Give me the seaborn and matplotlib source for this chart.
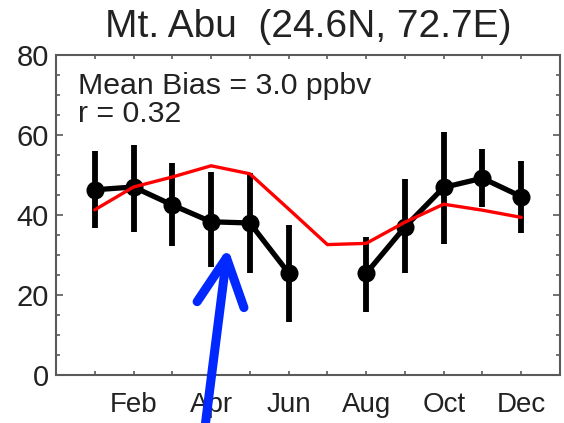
import numpy as np
import pandas as pd
import matplotlib
matplotlib.use('Agg')
import matplotlib.pyplot as plt
import seaborn as sns
from matplotlib.ticker import MultipleLocator

# Monthly ozone at Mt. Abu: observations (with spread) and model
months = [1, 2, 3, 4, 5, 6, 7, 8, 9, 10, 11, 12]
obs_mean = [46.3, 47.0, 42.5, 38.3, 38.0, 25.5, np.nan, 25.4, 37.0, 46.9, 49.2, 44.6]
obs_high = [56.0, 57.5, 53.0, 50.8, 50.6, 37.5, np.nan, 34.6, 48.9, 60.8, 56.4, 53.5]
obs_low = [36.7, 35.8, 32.3, 27.0, 25.6, 13.3, np.nan, 15.8, 25.4, 32.8, 42.0, 35.4]
model = [41.3, 47.0, 49.5, 52.3, 50.3, 41.5, 32.6, 32.9, 38.2, 42.7, 41.2, 39.4]
tick_months = [2, 4, 6, 8, 10, 12]
tick_names = ['Feb', 'Apr', 'Jun', 'Aug', 'Oct', 'Dec']
title = 'Mt. Abu  (24.6N, 72.7E)'
stats = ['Mean Bias = 3.0 ppbv', 'r = 0.32']

sns.set_style('ticks')
plt.rcParams['font.family'] = ['Liberation Sans', 'DejaVu Sans']

obs_df = pd.DataFrame({'month': months, 'obs': obs_mean, 'lo': obs_low, 'hi': obs_high})
# split observations where a month is missing so the line breaks there
obs_df['segment'] = obs_df['obs'].isna().cumsum()
obs_df = obs_df.dropna()
model_df = pd.DataFrame({'month': months, 'model': model})

fig = plt.figure(figsize=(5.64, 4.23), dpi=100)
ax = fig.add_axes([0.0993, 0.1135, 0.8936, 0.7565])

ax.vlines(obs_df['month'], obs_df['lo'], obs_df['hi'], color='black', lw=4.2, zorder=2)
sns.lineplot(data=obs_df, x='month', y='obs', units='segment', estimator=None,
             color='black', lw=3.8, marker='o', markersize=13, markeredgewidth=0,
             ax=ax, zorder=3)
sns.lineplot(data=model_df, x='month', y='model', color='#ff0000', lw=2.4, ax=ax, zorder=4)

ax.set_xlim(0, 13)
ax.set_ylim(0, 80)
ax.set_xlabel('')
ax.set_ylabel('')
ax.set_xticks(tick_months)
ax.set_xticklabels(tick_names)
ax.xaxis.set_minor_locator(MultipleLocator(1))
ax.yaxis.set_major_locator(MultipleLocator(20))
ax.yaxis.set_minor_locator(MultipleLocator(5))

frame = '#5a5a5a'
for side in ax.spines.values():
    side.set_visible(True)
    side.set_color(frame)
    side.set_linewidth(1.5)
ax.tick_params(which='both', direction='in', top=True, right=True, color=frame,
               width=1.2, labelcolor='#222222', labelsize=20)
ax.tick_params(axis='y', which='major', length=5, pad=5, labelsize=21)
ax.tick_params(axis='y', which='minor', length=3)
ax.tick_params(axis='x', which='both', length=3, pad=12)

ylabels = ax.get_yticklabels()
ylabels[0].set_va('bottom')
ylabels[-1].set_va('top')

ax.set_title(title, fontsize=28, color='#222222', pad=13)
ax.text(0.57, 70.2, stats[0], fontsize=21.8, color='#222222', va='baseline')
ax.text(0.57, 63.2, stats[1], fontsize=21.8, color='#222222', va='baseline')

ax.annotate('', xy=(4.43, 31.8), xycoords='data',
            xytext=(205, -4), textcoords='figure pixels',
            arrowprops=dict(arrowstyle='->, head_length=1.7, head_width=0.85',
                            color='#0028ff', lw=6.5, shrinkA=0, shrinkB=0,
                            mutation_scale=20, capstyle='round', joinstyle='round'),
            annotation_clip=False, zorder=10)

fig.savefig('out.png', dpi=100)
